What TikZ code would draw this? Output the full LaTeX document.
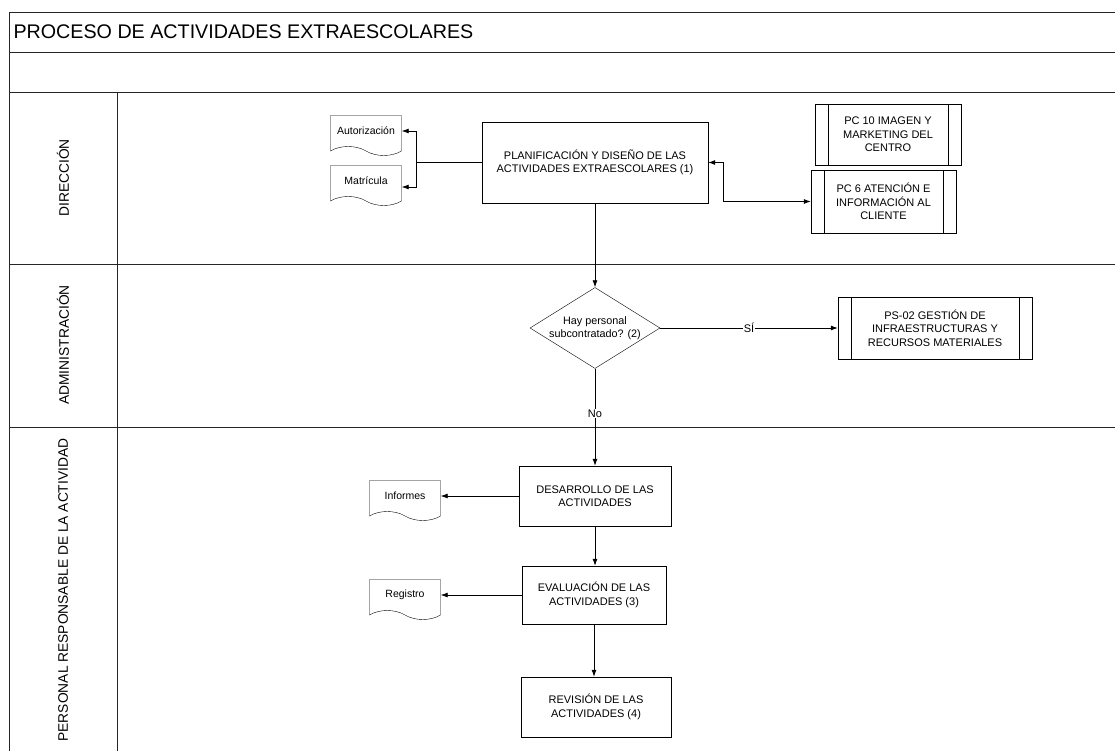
\documentclass[tikz,border=0pt]{standalone}
\usepackage{fontspec}
\setmainfont{Liberation Sans}
\usetikzlibrary{arrows.meta,shapes.geometric,shapes.symbols}

\begin{document}
\begin{tikzpicture}[x=1pt,y=-1pt,
  lane/.style={draw=black!85,line width=0.8pt},
  proc/.style={draw,rectangle,fill=white,align=center,inner sep=2pt,font=\fontsize{11}{13.5}\selectfont},
  subproc/.style={proc,path picture={
    \draw ([xshift=13pt]path picture bounding box.north west) -- ([xshift=13pt]path picture bounding box.south west);
    \draw ([xshift=-13pt]path picture bounding box.north east) -- ([xshift=-13pt]path picture bounding box.south east);}},
  doc/.style={draw,tape,tape bend top=none,tape bend bottom=out and in,tape bend height=9pt,
    fill=white,inner sep=1pt,minimum width=71pt,minimum height=40pt,font=\fontsize{10.5}{12}\selectfont},
  decision/.style={draw,diamond,fill=white,align=center,aspect=1.6,inner sep=-1.5pt,
    minimum width=130pt,minimum height=81pt,font=\fontsize{10.8}{13}\selectfont},
  flow/.style={draw,line width=0.8pt,-{Latex[length=7pt,width=5pt]}},
  lanelabel/.style={rotate=90,font=\fontsize{13.8}{16}\selectfont}
]
\useasboundingbox (0,0) rectangle (1115,751);
% lanes
\draw[lane] (9,752) -- (9,12) -- (1116,12);
\foreach \y in {52,92,264,427} \draw[lane] (9,\y) -- (1116,\y);
\draw[lane] (117,92) -- (117,752);
\node[anchor=west,font=\fontsize{19.7}{22}\selectfont] (title) at (10,32) {PROCESO DE ACTIVIDADES EXTRAESCOLARES};
\node[lanelabel] (l1) at (63,178) {DIRECCIÓN};
\node[lanelabel] (l2) at (63,345) {ADMINISTRACIÓN};
\node[lanelabel] (l3) at (63,590) {PERSONAL RESPONSABLE DE LA ACTIVIDAD};

% direccion
\node[proc,minimum width=226pt,minimum height=81pt] (plan) at (595,162.5) {PLANIFICACIÓN Y DISEÑO DE LAS\\ACTIVIDADES EXTRAESCOLARES (1)};
\node[doc] (autz) at (366,131) {Autorización};
\node[doc] (matr) at (366,181) {Matrícula};
\node[subproc,minimum width=146pt,minimum height=61pt] (pc10) at (888,134.5) {PC 10 IMAGEN Y\\MARKETING DEL\\CENTRO};
\node[subproc,minimum width=145pt,minimum height=63pt] (pc6) at (883.5,201.5) {PC 6 ATENCIÓN E\\INFORMACIÓN AL\\CLIENTE};

% administracion
\node[decision] (dec) at (595,328) {Hay personal\\subcontratado? (2)};
\node[subproc,minimum width=194pt,minimum height=62pt] (ps02) at (935,328) {PS-02 GESTIÓN DE\\INFRAESTRUCTURAS Y\\RECURSOS MATERIALES};

% personal
\node[proc,minimum width=152pt,minimum height=60pt] (des) at (595,496) {DESARROLLO DE LAS\\ACTIVIDADES};
\node[doc] (info) at (405,496) {Informes};
\node[proc,minimum width=144pt,minimum height=58pt] (eval) at (594,595) {EVALUACIÓN DE LAS\\ACTIVIDADES (3)};
\node[doc] (regi) at (405,595) {Registro};
\node[proc,minimum width=150pt,minimum height=60pt] (rev) at (596,707) {REVISIÓN DE LAS\\ACTIVIDADES (4)};

% connectors
\coordinate (jdoc) at (416,162.5);
\path[draw,line width=0.8pt] (plan.west) -- (jdoc);
\path[flow] (jdoc) |- (autz.east);
\path[flow] (jdoc) |- ([yshift=-6pt]matr.east);
\path[flow,{Latex[length=7pt,width=5pt]}-{Latex[length=7pt,width=5pt]}] (plan.east) -- ++(15,0) |- (pc6.west);
\path[flow] (plan.south) -- (dec.north);
\path[flow] (dec.east) -- node[fill=white,inner sep=1pt,font=\fontsize{11}{13}\selectfont] {SÍ} (ps02.west);
\path[flow] (dec.south) -- node[pos=0.46,fill=white,inner sep=1pt,font=\fontsize{11}{13}\selectfont] {No} (des.north);
\path[flow] (des.west) -- (info.east);
\path[flow] (des.south) -- (des.south |- eval.north);
\path[flow] (eval.west) -- (regi.east);
\path[flow] (eval.south) -- (eval.south |- rev.north);
\end{tikzpicture}
\end{document}
